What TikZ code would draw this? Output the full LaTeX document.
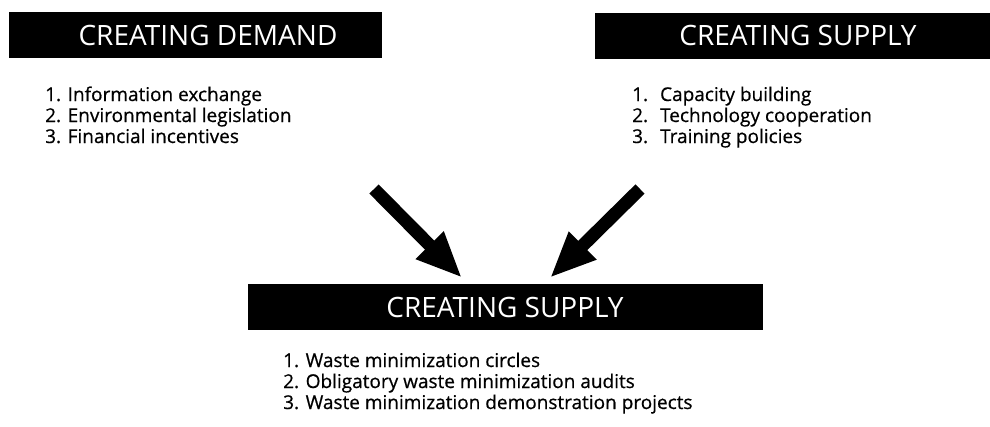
\documentclass[tikz,border=0pt]{standalone}
\usepackage{fontspec}
\setmainfont{Open Sans}
\newfontfamily\itemfont[FakeBold=0.6]{Open Sans}
\usetikzlibrary{positioning,arrows.meta}
\tikzset{
  bar/.style={fill=black, minimum height=46pt, inner sep=0pt},
  bartext/.style={text=white, font=\fontsize{28}{30}\selectfont, inner sep=0pt},
  item/.style={anchor=base west, font=\itemfont\fontsize{19}{21}\selectfont, inner sep=0pt},
  bigarrow/.style={line width=13pt, -{Triangle[length=46pt,width=36pt]}}
}
\begin{document}
\begin{tikzpicture}[x=1pt,y=-1pt]
\useasboundingbox (0,0) rectangle (990,426);
% black title bars
\node[bar, minimum width=373pt] (dembar) at (195.5,35) {};
\node[bar, minimum width=395pt] (supbar) at (792.5,35.5) {};
\node[bar, minimum width=515pt] (outbar) at (505.5,307) {};
\node[bartext] (demtitle) at (208,35) {CREATING DEMAND};
\node[bartext] (suptitle) at (798,35.5) {CREATING SUPPLY};
\node[bartext] (outtitle) at (505,307) {CREATING SUPPLY};
% lists
\foreach \t [count=\i] in {1. Information exchange, 2. Environmental legislation, 3. Financial incentives}
  \node[item] (dem\i) at (45,80+21*\i) {\t};
\foreach \t [count=\i] in {{1.\hspace{12pt}Capacity building}, {2.\hspace{12pt}Technology cooperation}, {3.\hspace{12pt}Training policies}}
  \node[item] (sup\i) at (632,80+21*\i) {\t};
\foreach \t [count=\i] in {1. Waste minimization circles, 2. Obligatory waste minimization audits, 3. Waste minimization demonstration projects}
  \node[item] (out\i) at (283,346+21*\i) {\t};
% arrows
\coordinate (demtail) at (374,189);
\coordinate (suptail) at (640,189);
\coordinate (demtip) at ([xshift=-43.5pt,yshift=6pt]outbar.north);
\coordinate (suptip) at ([xshift=44.5pt,yshift=6pt]outbar.north);
\draw[bigarrow] (demtail) -- (demtip);
\draw[bigarrow] (suptail) -- (suptip);
\end{tikzpicture}
\end{document}
